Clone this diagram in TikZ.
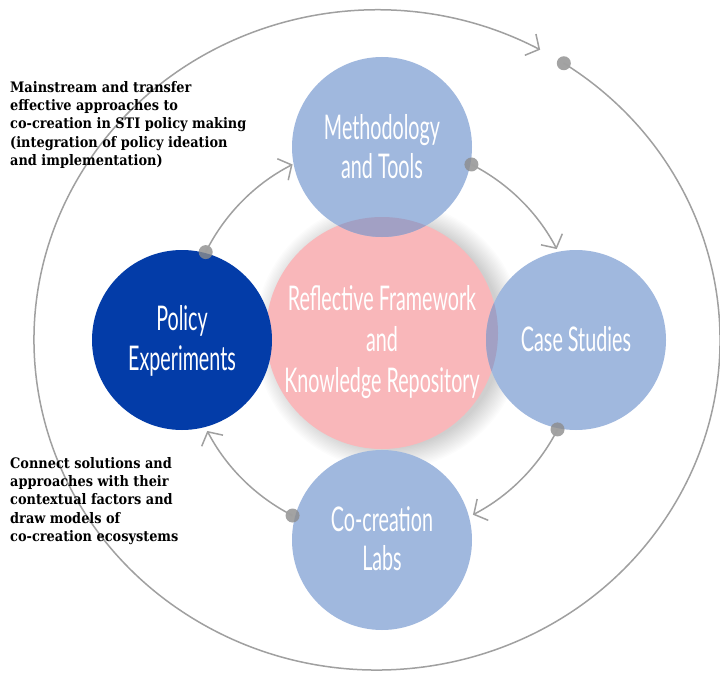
\documentclass[tikz,border=0pt]{standalone}
\usepackage{fontspec}
\usetikzlibrary{arrows.meta}
\newfontfamily\condfont[FakeStretch=0.58]{Lato}
\newfontfamily\notefont[FakeStretch=0.89]{DejaVu Serif}
\definecolor{lightblue}{RGB}{160,184,222}
\definecolor{darkblue}{RGB}{3,60,168}
\definecolor{pinkfill}{RGB}{249,183,186}
\definecolor{overlapcol}{RGB}{162,160,196}
\definecolor{linegray}{RGB}{160,160,160}
\definecolor{dotgray}{RGB}{140,140,140}
\begin{document}
\begin{tikzpicture}[x=1pt,y=1pt,
  bub/.style={circle, inner sep=0pt, minimum size=180pt, fill=lightblue},
  lbl/.style={text=white, font=\condfont\fontsize{34}{39.5}\selectfont, align=center, inner sep=0pt},
  note/.style={font=\notefont\bfseries\fontsize{14.5}{18.3}\selectfont, align=left, anchor=north west, inner sep=0pt, text=black},
  conn/.style={draw=linegray, line width=1.5pt, -{Straight Barb[length=10pt,width=24pt,line width=1.5pt]}},
  dotnode/.style={circle, fill=dotgray, fill opacity=0.8, minimum size=14pt, inner sep=0pt}
]
\useasboundingbox (0,0) rectangle (720,-674);
\fill[white] (0,0) rectangle (720,-674);

\coordinate (hub) at (382,-340);
\coordinate (octr) at (377,-340);

% shadow of central circle
\foreach \i in {1,...,16} {
  \fill[black, opacity=0.013] (389,-335) circle ({112+1.4*\i});
}

% central circle
\node[circle, inner sep=0pt, minimum size=232pt, fill=pinkfill] (refl) at (382,-333) {};

% satellite circles
\node[bub] (meth) at (382,-147) {};
\node[bub] (case) at (576,-340) {};
\node[bub] (labs) at (382,-540) {};

% overlaps with the central circle
\begin{scope}
  \clip (refl.center) circle (116);
  \fill[overlapcol] (meth.center) circle (90);
  \fill[overlapcol] (case.center) circle (90);
  \fill[overlapcol] (labs.center) circle (90);
\end{scope}

\node[circle, inner sep=0pt, minimum size=180pt, fill=darkblue] (pol) at (182,-340) {};

% labels
\node[lbl] (tmeth) at (382,-146.5) {Methodology\\and Tools};
\node[lbl] (tcase) at (576,-339.5) {Case Studies};
\node[lbl] (tlabs) at (382,-538.5) {Co-creation\\Labs};
\node[lbl] (tpol) at (182,-341) {Policy\\Experiments};
\node[lbl, font=\condfont\fontsize{34}{41}\selectfont] (trefl) at (382,-342) {Reflective Framework\\and\\Knowledge Repository};

% connector dots
\node[dotnode] (d1) at ([shift={(153.5:197)}]hub) {};
\node[dotnode] (d2) at ([shift={(63:197)}]hub) {};
\node[dotnode] (d3) at ([shift={(-27:197)}]hub) {};
\node[dotnode] (d4) at ([shift={(-117:197)}]hub) {};
\node[dotnode] (d0) at ([shift={(57:343 and 330)}]octr) {};

% connectors
\draw[conn] (d1.center) arc[start angle=153.5, end angle=117, radius=197];
\draw[conn] (d2.center) arc[start angle=63, end angle=27.5, radius=197];
\draw[conn] (d3.center) arc[start angle=-27, end angle=-62.5, radius=197];
\draw[conn] (d4.center) arc[start angle=-117, end angle=-152.5, radius=197];
\draw[conn] (d0.center) arc[start angle=57, end angle=-298.4, x radius=343, y radius=330];

% notes
\node[note] (n1) at (10,-81) {Mainstream and transfer\\effective approaches to\\co-creation in STI policy making\\(integration of policy ideation\\and implementation)};
\node[note] (n2) at (10,-457) {Connect solutions and\\approaches with their\\contextual factors and\\draw models of\\co-creation ecosystems};
\end{tikzpicture}
\end{document}
